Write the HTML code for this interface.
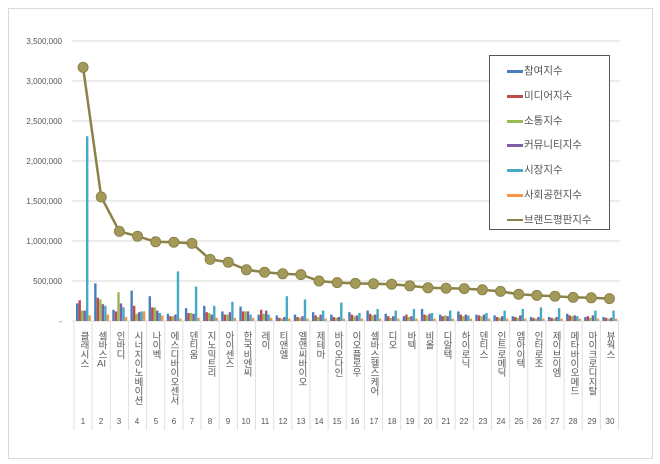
<!DOCTYPE html>
<html><head><meta charset="utf-8">
<style>
body{margin:0;background:#fff;width:660px;height:464px;overflow:hidden;font-family:"Liberation Sans","Noto Sans CJK KR",sans-serif;}
#f{position:absolute;left:8px;top:8px;width:643px;height:449px;border:1px solid #d9d9d9;}
.yl{position:absolute;right:598px;font-size:8px;color:#555;text-align:right;}
.nm{position:absolute;top:331px;writing-mode:vertical-lr;text-orientation:upright;font-size:9.5px;color:#555;line-height:12px;letter-spacing:-0.3px;}
.nm b{font-weight:normal;text-combine-upright:all;}
.nb{position:absolute;top:417px;font-size:8px;color:#555;width:18px;text-align:center;}
#lg{position:absolute;left:489px;top:55px;width:119px;height:173px;border:1px solid #555;background:#fff;font-size:10.5px;color:#555;}
#lg div{position:absolute;left:17px;height:14px;line-height:14px;}
#lg span{display:inline-block;width:16px;height:3px;vertical-align:middle;margin-right:1px;}
</style></head><body>
<div id="f"></div>
<svg id="s" width="660" height="464" style="position:absolute;left:0;top:0"></svg>
<div class="yl" style="top:37px">3,500,000</div>
<div class="yl" style="top:77px">3,000,000</div>
<div class="yl" style="top:117px">2,500,000</div>
<div class="yl" style="top:157px">2,000,000</div>
<div class="yl" style="top:197px">1,500,000</div>
<div class="yl" style="top:237px">1,000,000</div>
<div class="yl" style="top:277px">500,000</div>
<div class="yl" style="top:317px">-</div>
<div id="names">
<div class="nm" style="left:77px">클래시스</div>
<div class="nm" style="left:95px">셀바스<b>AI</b></div>
<div class="nm" style="left:113px">인바디</div>
<div class="nm" style="left:131px">시너지이노베이션</div>
<div class="nm" style="left:149px">나이벡</div>
<div class="nm" style="left:167px">에스디바이오센서</div>
<div class="nm" style="left:186px">덴티움</div>
<div class="nm" style="left:204px">지노믹트리</div>
<div class="nm" style="left:222px">아이센스</div>
<div class="nm" style="left:240px">한국비엔씨</div>
<div class="nm" style="left:258px">레이</div>
<div class="nm" style="left:276px">티앤엘</div>
<div class="nm" style="left:295px">엘앤씨바이오</div>
<div class="nm" style="left:313px">제테마</div>
<div class="nm" style="left:331px">바이오다인</div>
<div class="nm" style="left:349px">이오플로우</div>
<div class="nm" style="left:367px">셀바스헬스케어</div>
<div class="nm" style="left:385px">디오</div>
<div class="nm" style="left:404px">바텍</div>
<div class="nm" style="left:422px">비올</div>
<div class="nm" style="left:440px">디알텍</div>
<div class="nm" style="left:458px">하이로닉</div>
<div class="nm" style="left:476px">덴티스</div>
<div class="nm" style="left:494px">인트로메딕</div>
<div class="nm" style="left:513px">엠아이텍</div>
<div class="nm" style="left:531px">인터로조</div>
<div class="nm" style="left:549px">제이브이엠</div>
<div class="nm" style="left:567px">메타바이오메드</div>
<div class="nm" style="left:585px">마이크로디지탈</div>
<div class="nm" style="left:603px">뷰웍스</div>
</div>
<div id="nums">
<div class="nb" style="left:74px">1</div><div class="nb" style="left:92px">2</div><div class="nb" style="left:110px">3</div><div class="nb" style="left:128px">4</div><div class="nb" style="left:147px">5</div><div class="nb" style="left:165px">6</div><div class="nb" style="left:183px">7</div><div class="nb" style="left:201px">8</div><div class="nb" style="left:219px">9</div><div class="nb" style="left:237px">10</div><div class="nb" style="left:256px">11</div><div class="nb" style="left:274px">12</div><div class="nb" style="left:292px">13</div><div class="nb" style="left:310px">14</div><div class="nb" style="left:328px">15</div><div class="nb" style="left:346px">16</div><div class="nb" style="left:365px">17</div><div class="nb" style="left:383px">18</div><div class="nb" style="left:401px">19</div><div class="nb" style="left:419px">20</div><div class="nb" style="left:437px">21</div><div class="nb" style="left:455px">22</div><div class="nb" style="left:474px">23</div><div class="nb" style="left:492px">24</div><div class="nb" style="left:510px">25</div><div class="nb" style="left:528px">26</div><div class="nb" style="left:546px">27</div><div class="nb" style="left:564px">28</div><div class="nb" style="left:583px">29</div><div class="nb" style="left:601px">30</div>
</div>
<div id="lg">
<div style="top:8px"><span style="background:#4a7ebb"></span>참여지수</div>
<div style="top:33px"><span style="background:#be4b48"></span>미디어지수</div>
<div style="top:58px"><span style="background:#98b954"></span>소통지수</div>
<div style="top:82px"><span style="background:#7d60a0"></span>커뮤니티지수</div>
<div style="top:107px"><span style="background:#46aac5"></span>시장지수</div>
<div style="top:132px"><span style="background:#f69546"></span>사회공헌지수</div>
<div style="top:157px"><span style="background:#8b8247;height:2px"></span>브랜드평판지수</div>
</div>
<script>
var s=document.getElementById('s'),h='';
var x0=74,w=18.15,y0=321,k=280/3500;
for(var i=0;i<8;i++){var y=41+i*40;h+='<line x1="72" x2="620" y1="'+y+'" y2="'+y+'" stroke="#d9d9d9" stroke-width="1"/>';}
for(var i=0;i<=30;i++){var x=x0+i*w;h+='<line x1="'+x+'" x2="'+x+'" y1="321" y2="430" stroke="#e0e0e0"/>';}
var B=[[220,260,130,130,2310,70],[470,290,270,210,190,80],[140,120,360,220,170,50],[380,190,90,110,120,120],[310,170,170,130,100,70],[90,60,60,80,620,30],[160,100,100,90,430,40],[190,110,100,80,190,40],[120,80,80,110,240,40],[180,120,120,120,80,40],[80,140,90,130,80,40],[70,40,30,50,310,30],[80,50,40,60,270,30],[110,70,50,80,130,30],[80,50,40,50,230,30],[110,80,60,70,100,30],[130,90,70,80,150,30],[90,60,40,60,130,30],[60,80,50,60,150,30],[150,80,70,90,100,30],[80,60,70,60,130,30],[120,80,60,80,70,30],[80,70,60,80,100,30],[70,50,40,60,130,30],[60,50,40,70,150,30],[50,40,30,50,170,30],[50,40,30,50,160,30],[90,70,60,70,60,30],[50,60,40,70,130,30],[50,40,30,40,130,30]];
var C=['#4a7ebb','#be4b48','#98b954','#7d60a0','#46aac5','#f69546'];
for(var i=0;i<30;i++)for(var j=0;j<6;j++){var v=B[i][j]*k,x=x0+i*w+2+j*2.5;h+='<rect x="'+x+'" y="'+(y0-v)+'" width="2.4" height="'+v+'" fill="'+C[j]+'"/>';}
var L=[3170,1550,1120,1060,990,985,970,770,735,640,610,590,580,500,480,470,465,460,440,415,410,405,390,370,335,320,310,295,290,280],p='';
for(var i=0;i<30;i++)p+=(x0+i*w+w/2)+','+(y0-L[i]*k)+' ';
h+='<polyline points="'+p+'" fill="none" stroke="#8b8247" stroke-width="2.5"/>';
for(var i=0;i<30;i++)h+='<circle cx="'+(x0+i*w+w/2)+'" cy="'+(y0-L[i]*k)+'" r="5" fill="#a39a5a" stroke="#8b8247" stroke-width="1"/>';
s.innerHTML=h;
</script>
</body></html>
